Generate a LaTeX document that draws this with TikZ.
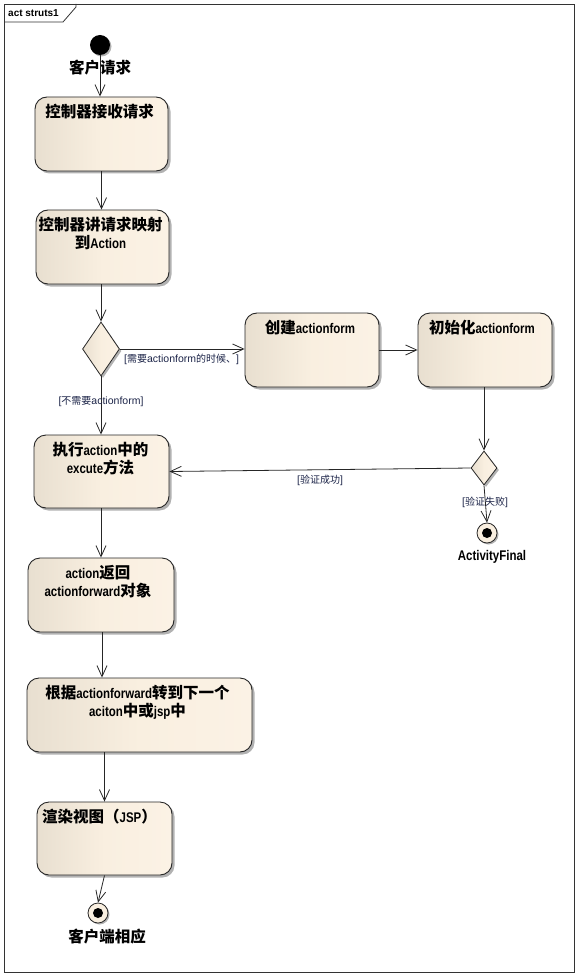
\documentclass[tikz,border=0pt]{standalone}
\usepackage{fontspec}
\usetikzlibrary{arrows.meta,shapes.geometric,shadows,calc}
\newfontfamily\han{Noto Sans CJK SC}
\newfontfamily\latn{Liberation Sans}[FakeStretch=0.82]
\newfontfamily\latr{Liberation Sans}
\definecolor{boxL}{HTML}{E8DFD0}
\definecolor{boxM}{HTML}{F9EFE0}
\definecolor{boxR}{HTML}{FBF2E5}
\definecolor{guard}{HTML}{1C2448}
\newcommand\hb[1]{{\han\bfseries #1}}
\newcommand\lb[1]{{\latn\bfseries\fontsize{14}{18}\selectfont #1}}
\newcommand\hs[1]{{\han #1}}
\newcommand\lsm[1]{{\latr\fontsize{10.5}{11}\selectfont #1}}
\tikzset{
  conn/.style={draw=black!85, line width=0.8pt, -{Straight Barb[length=11pt,width=10pt,line width=0.8pt]}},
  actbox/.style={draw=black!85, line width=0.9pt, rounded corners=12pt, inner sep=0pt,
    left color=boxL, right color=boxR, middle color=boxM,
    drop shadow={shadow xshift=2.5pt, shadow yshift=-2.5pt, fill=black!30, opacity=1}},
  decide/.style={shape=diamond, draw=black!85, line width=0.8pt, inner sep=0pt,
    left color=boxL, right color=boxR, middle color=boxM,
    drop shadow={shadow xshift=2pt, shadow yshift=-2pt, fill=black!30, opacity=1}},
  boxtext/.style={anchor=north, inner sep=0pt, align=center, font=\fontsize{15.5}{18}\selectfont},
  bigtext/.style={inner sep=0pt, font=\fontsize{15.5}{18}\selectfont},
  guardtext/.style={inner sep=0pt, text=guard, font=\fontsize{10}{11}\selectfont},
  finalnode/.style={circle, draw=black!85, line width=0.8pt, fill=boxM, minimum size=20pt, inner sep=0pt,
    drop shadow={shadow xshift=1.5pt, shadow yshift=-1.5pt, fill=black!30, opacity=1},
    path picture={\fill[black] (path picture bounding box.center) circle (5pt);}},
}
\begin{document}
\begin{tikzpicture}[x=1pt,y=-1pt]
\useasboundingbox (0,0) rectangle (578,976);
% frame
\draw[black!80, line width=0.8pt] (4,4) rectangle (574,972);
\draw[black!80, line width=0.8pt] (4,22) -- (63,22) -- (76,7) -- (76,4);
\node[anchor=west, inner sep=0pt, font=\fontsize{10}{12}\selectfont] (title) at (8,13) {\latr\bfseries act struts1};

% initial
\node[circle, fill=black, minimum size=20pt, inner sep=0pt,
  drop shadow={shadow xshift=1.5pt, shadow yshift=-1.5pt, fill=black!30, opacity=1}] (init) at (100,45) {};
\node[bigtext] (initlbl) at (100,68) {\hb{客户请求}};

% boxes
\node[actbox, minimum width=133pt, minimum height=74pt] (b1) at (101.5,134) {};
\node[actbox, minimum width=133pt, minimum height=74pt] (b2) at (102.5,247) {};
\node[actbox, minimum width=134pt, minimum height=74pt] (b3) at (312,350) {};
\node[actbox, minimum width=134pt, minimum height=74pt] (b4) at (485,350) {};
\node[actbox, minimum width=135pt, minimum height=73pt] (b5) at (101.5,471.5) {};
\node[actbox, minimum width=146pt, minimum height=74pt] (b6) at (101,595) {};
\node[actbox, minimum width=225pt, minimum height=74pt] (b7) at (139.5,715) {};
\node[actbox, minimum width=135pt, minimum height=73pt] (b8) at (104.5,838.5) {};

\node[boxtext] (t1) at ($(b1.north)+(-2,7)$) {\hb{控制器接收请求}};
\node[boxtext] (t2) at ($(b2.north)+(-2,7)$) {\hb{控制器讲请求映射}\\\hb{到}\lb{Action}};
\node[boxtext] (t3) at ($(b3.north)+(-2,7)$) {\hb{创建}\lb{actionform}};
\node[boxtext] (t4) at ($(b4.north)+(-3,7)$) {\hb{初始化}\lb{actionform}};
\node[boxtext] (t5) at ($(b5.north)+(-1,7)$) {\hb{执行}\lb{action}\hb{中的}\\\lb{excute}\hb{方法}};
\node[boxtext] (t6) at ($(b6.north)+(-3,8)$) {\lb{action}\hb{返回}\\\lb{actionforward}\hb{对象}};
\node[boxtext] (t7) at ($(b7.north)+(-2,7)$) {\hb{根据}\lb{actionforward}\hb{转到下一个}\\\lb{aciton}\hb{中或}\lb{jsp}\hb{中}};
\node[boxtext] (t8) at ($(b8.north)+(-5,7)$) {\hb{渲染视图（}\lb{JSP}\hb{）}};

% decisions
\node[decide, minimum width=37pt, minimum height=54pt] (d1) at (101,349) {};
\node[decide, minimum width=26pt, minimum height=34pt] (d2) at (484,468) {};

% finals
\node[finalnode] (f1) at (487,533) {};
\node[inner sep=0pt] (f1lbl) at (492,557) {\lb{ActivityFinal}};
\node[finalnode] (f2) at (98,913) {};
\node[bigtext] (f2lbl) at (107,937) {\hb{客户端相应}};

% connectors
\draw[conn] (init) -- (init |- b1.north);
\draw[conn] (b1.south) -- (b1.south |- b2.north);
\draw[conn] (b2.south -| d1.north) -- (d1.north);
\draw[conn] (d1.east) -- (d1.east -| b3.west);
\draw[conn] (b3.east) -- (b4.west);
\draw[conn] (b4.south -| d2.north) -- (d2.north);
\draw[conn] (d2.west) -- (b5.east);
\draw[conn] (d2.south) -- (f1.north);
\draw[conn] (d1.south) -- (d1.south |- b5.north);
\draw[conn] (b5.south -| d1.south) -- (d1.south |- b6.north);
\draw[conn] (b6.south -| 102,0) -- (102,0 |- b7.north);
\draw[conn] (b8.north |- b7.south) -- (b8.north);
\draw[conn] (b8.south) -- (f2.north);

% guards
\node[guardtext, anchor=west] (g1) at (124,359) {\lsm{[}\hs{需要}\lsm{actionform}\hs{的时候、}\lsm{]}};
\node[guardtext] (g2) at (101,402) {\lsm{[}\hs{不需要}\lsm{actionform]}};
\node[guardtext] (g3) at (320,480) {\lsm{[}\hs{验证成功}\lsm{]}};
\node[guardtext] (g4) at (485,502) {\lsm{[}\hs{验证失败}\lsm{]}};
\end{tikzpicture}
\end{document}
